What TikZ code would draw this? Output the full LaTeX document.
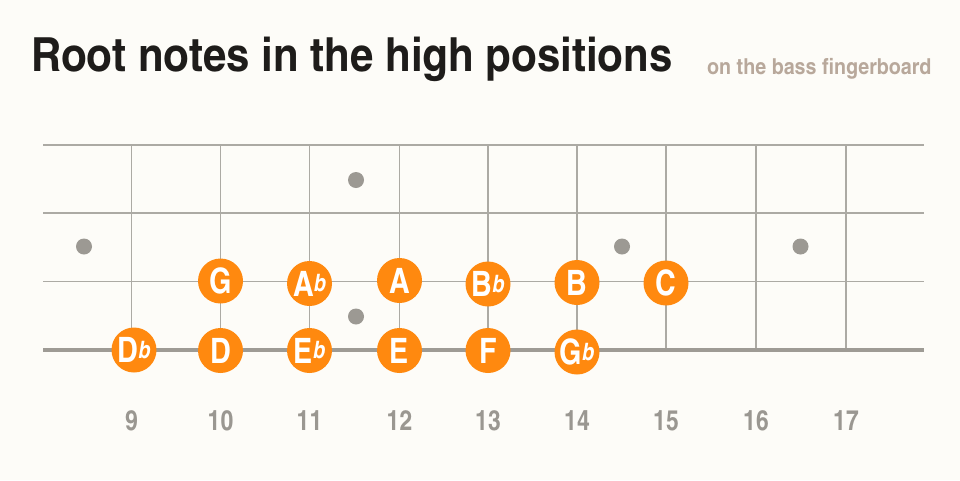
\documentclass[tikz,border=0pt]{standalone}
\usepackage{fontspec}
\newfontfamily\cnfont{texgyreheroscn-bold.otf}
\newfontfamily\widefont[FakeStretch=1.09]{texgyreheroscn-bold.otf}
\newfontfamily\flatfont{texgyreheroscn-bolditalic.otf}
\definecolor{bgc}{RGB}{253,252,248}
\definecolor{orangec}{RGB}{255,137,15}
\definecolor{linec}{RGB}{172,170,164}
\definecolor{thickc}{RGB}{158,155,149}
\definecolor{dotc}{RGB}{156,153,147}
\definecolor{numc}{RGB}{154,151,145}
\definecolor{subc}{RGB}{184,168,155}
\definecolor{titlec}{RGB}{30,28,26}
\tikzset{
  stringline/.style={draw=linec, line width=1.4pt},
  laststring/.style={draw=thickc, line width=3.4pt},
  fretline/.style={draw=linec, line width=1.3pt},
  inlay/.style={circle, fill=dotc, minimum size=16pt, inner sep=0pt},
  note/.style={circle, fill=orangec, minimum size=45pt, inner sep=0pt, text=white, font=\cnfont\fontsize{35}{35}\selectfont},
  fretnum/.style={anchor=base, inner sep=0pt, text=numc, font=\cnfont\fontsize{28}{28}\selectfont},
}
\newcommand{\fl}{{\flatfont\fontsize{24}{24}\selectfont\raisebox{4.5pt}{b}}}
\begin{document}
\begin{tikzpicture}[x=1pt,y=-1pt]
\fill[bgc] (0,0) rectangle (960,480);
\useasboundingbox (0,0) rectangle (960,480);
% title
\node[anchor=base west, inner sep=0pt, text=titlec, font=\widefont\fontsize{47}{47}\selectfont] (title) at (31,71.7) {Root notes in the high positions};
\node[anchor=base west, inner sep=0pt, text=subc, font=\widefont\fontsize{22}{22}\selectfont] (subtitle) at (707,74.3) {on the bass fingerboard};
% strings
\coordinate (s1w) at (43,145); \coordinate (s1e) at (924,145);
\coordinate (s2w) at (43,213); \coordinate (s2e) at (924,213);
\coordinate (s3w) at (43,281.5); \coordinate (s3e) at (924,281.5);
\coordinate (s4w) at (43,350); \coordinate (s4e) at (924,350);
\draw[stringline] (s1w) -- (s1e);
\draw[stringline] (s2w) -- (s2e);
\draw[stringline] (s3w) -- (s3e);
% frets
\foreach \n/\x in {9/131.5,10/220.5,11/309.5,12/399.5,13/488,14/577,15/666,16/756,17/846}{
  \coordinate (ft\n) at (\x,145);
  \coordinate (fb\n) at (\x,350);
  \draw[fretline] (ft\n) -- (fb\n);
  \node[fretnum] (num\n) at (\x,430) {\n};
}
\draw[laststring] (s4w) -- (s4e);
% inlays
\node[inlay] (dot1) at (84,246.5) {};
\node[inlay] (dot2) at (356,180) {};
\node[inlay] (dot3) at (356,316.5) {};
\node[inlay] (dot4) at (622,246.5) {};
\node[inlay] (dot5) at (800.5,246.5) {};
% notes, third string
\node[note] (G)  at (220.5,281) {G};
\node[note] (Ab) at (309.5,283.5) {A\fl};
\node[note] (A)  at (399.5,280.5) {A};
\node[note] (Bb) at (488,284) {B\fl};
\node[note] (B)  at (577,282.5) {B};
\node[note] (C)  at (666,283) {C};
% notes, fourth string
\node[note] (Db) at (134,350) {D\fl};
\node[note] (D)  at (220.5,350.5) {D};
\node[note] (Eb) at (309.5,350.5) {E\fl};
\node[note] (E)  at (399.5,350.5) {E};
\node[note] (F)  at (488,350.5) {F};
\node[note] (Gb) at (577,352) {G\fl};
\end{tikzpicture}
\end{document}
